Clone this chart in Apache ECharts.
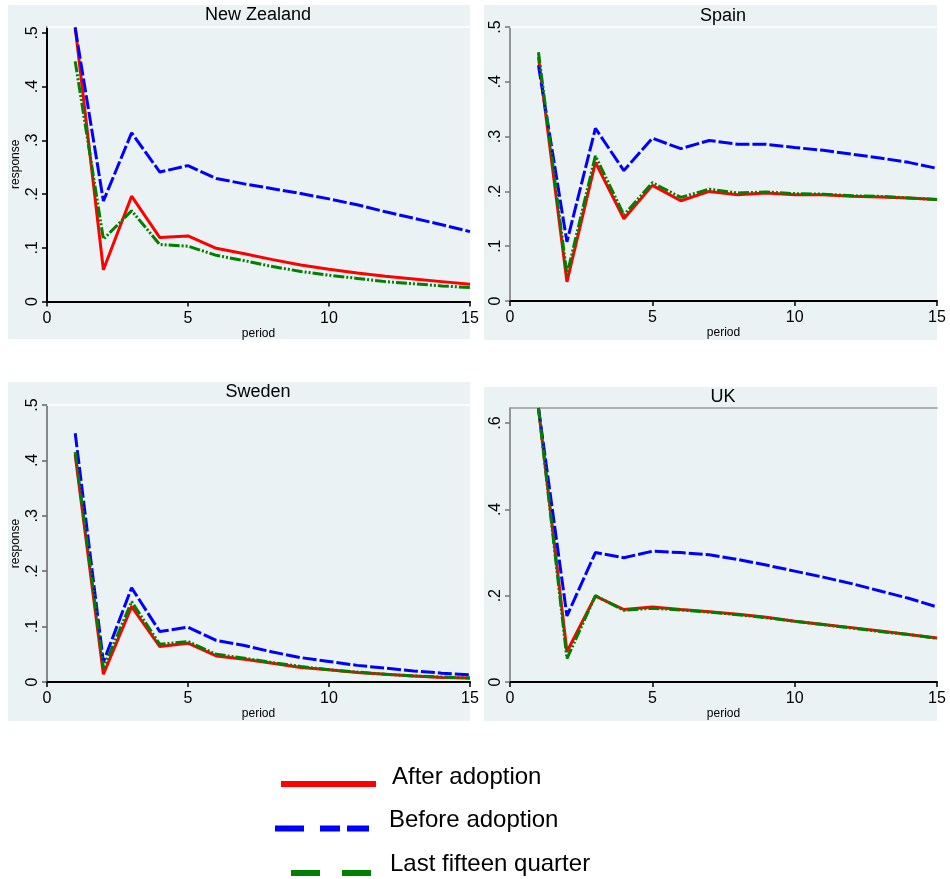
<!DOCTYPE html>
<html>
<head>
<meta charset="utf-8">
<script src="https://cdn.jsdelivr.net/npm/echarts@6/dist/echarts.min.js"></script>
<style>
html,body{margin:0;padding:0;background:#fff;}
#chart{width:950px;height:879px;}
</style>
</head>
<body>
<div id="chart"></div>
<script>
// ---------- data ----------
const periods = [1,2,3,4,5,6,7,8,9,10,11,12,13,14,15];
const seriesNames = ['After adoption', 'Before adoption', 'Last fifteen quarter'];
const panelTitles = ['New Zealand', 'Spain', 'Sweden', 'UK'];

const nzAfter  = [0.511,0.059,0.196,0.119,0.122,0.099,0.089,0.078,0.068,0.060,0.053,0.047,0.042,0.037,0.032];
const nzBefore = [0.509,0.187,0.314,0.241,0.253,0.229,0.219,0.210,0.201,0.191,0.180,0.167,0.155,0.143,0.130];
const nzLast   = [0.447,0.116,0.169,0.106,0.103,0.086,0.076,0.065,0.056,0.049,0.043,0.037,0.033,0.029,0.026];

const spainAfter  = [0.445,0.035,0.253,0.150,0.211,0.183,0.200,0.194,0.197,0.194,0.194,0.191,0.190,0.188,0.185];
const spainBefore = [0.430,0.108,0.315,0.238,0.297,0.278,0.293,0.286,0.286,0.280,0.275,0.268,0.261,0.253,0.242];
const spainLast   = [0.454,0.048,0.265,0.157,0.216,0.189,0.204,0.197,0.199,0.196,0.195,0.192,0.191,0.188,0.185];

const swedenAfter  = [0.410,0.014,0.136,0.064,0.070,0.047,0.041,0.034,0.026,0.022,0.017,0.014,0.011,0.008,0.007];
const swedenBefore = [0.449,0.036,0.170,0.091,0.099,0.075,0.066,0.054,0.044,0.037,0.030,0.025,0.020,0.016,0.013];
const swedenLast   = [0.415,0.025,0.145,0.068,0.073,0.050,0.043,0.035,0.028,0.022,0.018,0.014,0.011,0.009,0.007];

const ukAfter  = [0.635,0.070,0.199,0.168,0.174,0.168,0.163,0.157,0.150,0.141,0.133,0.126,0.118,0.110,0.102];
const ukBefore = [0.635,0.153,0.300,0.288,0.303,0.300,0.295,0.284,0.271,0.257,0.243,0.228,0.211,0.194,0.174];
const ukLast   = [0.635,0.054,0.200,0.166,0.171,0.167,0.162,0.156,0.149,0.141,0.133,0.125,0.117,0.110,0.101];

const xTicks = [0,5,10,15];
const yTicksHalf = [0,0.1,0.2,0.3,0.4,0.5];
const yTicksUK = [0,0.2,0.4,0.6];
const nzYMax = 0.511;
const ukYMax = 0.635;

// ---------- layout / style ----------
const FONT = "'Liberation Sans', Arial, Helvetica, sans-serif";
const colors = ['#ff0000', '#0000ff', '#007f00'];
const dashes = ['solid', [14, 3], [11, 2, 2, 2, 2, 2]];

const panels = [
  { data: [nzAfter, nzBefore, nzLast], grid: {left:47, top:27, width:423, height:274.5}, bg:[8,5,462,334],
    yMax: nzYMax, yTicks: yTicksHalf, yName: 'response', yColor:'#000', yWidth:2, topColor:'#ffffff', title:[258,15.5] },
  { data: [spainAfter, spainBefore, spainLast], grid: {left:510, top:27, width:427, height:274}, bg:[484,5,453,335],
    yMax: 0.5, yTicks: yTicksHalf, yName: '', yColor:'#777', yWidth:1.5, topColor:'#ffffff', title:[723,16] },
  { data: [swedenAfter, swedenBefore, swedenLast], grid: {left:47, top:405, width:423, height:277}, bg:[8,382,462,339],
    yMax: 0.5, yTicks: yTicksHalf, yName: 'response', yColor:'#666', yWidth:1.5, topColor:'#ffffff', title:[258,392] },
  { data: [ukAfter, ukBefore, ukLast], grid: {left:510, top:408, width:427, height:274}, bg:[484,387,453,334],
    yMax: ukYMax, yTicks: yTicksUK, yName: '', yColor:'#777', yWidth:1.5, topColor:'#9a9a9a', title:[723,397] }
];

function fmtY(v){
  if (Math.abs(v) < 1e-9) return '0';
  return String(+v.toFixed(2)).replace(/^0\./, '.');
}

const grids = [], xAxes = [], yAxes = [], series = [], titles = [], graphics = [];

panels.forEach((p, i) => {
  grids.push(Object.assign({containLabel:false}, p.grid));
  graphics.push({ type:'rect', shape:{x:p.bg[0], y:p.bg[1], width:p.bg[2], height:p.bg[3]},
    style:{fill:'#eaf2f3'}, z:-10, silent:true });
  xAxes.push({
    type:'value', gridIndex:i, min:0, max:15, interval:5, position:'bottom',
    name:'period', nameLocation:'middle', nameGap:25,
    nameTextStyle:{fontSize:12, color:'#000', fontFamily:FONT},
    axisLine:{show:true, onZero:false, lineStyle:{color:'#000', width:2}},
    axisTick:{show:true, length:5, inside:false, customValues:xTicks, lineStyle:{color:'#000', width:1.5}},
    axisLabel:{fontSize:16, color:'#000', margin:9, fontFamily:FONT, customValues:xTicks},
    splitLine:{show:false}
  });
  xAxes.push({
    type:'value', gridIndex:i, min:0, max:15, position:'top',
    axisLine:{show:true, onZero:false, lineStyle:{color:p.topColor, width:1.5}},
    axisTick:{show:false}, axisLabel:{show:false}, splitLine:{show:false}
  });
  yAxes.push({
    type:'value', gridIndex:i, min:0, max:p.yMax,
    name:p.yName, nameLocation:'middle', nameGap:25,
    nameTextStyle:{fontSize:12, color:'#000', fontFamily:FONT},
    axisLine:{show:true, onZero:false, lineStyle:{color:p.yColor, width:p.yWidth}},
    axisTick:{show:true, length:5, inside:false, customValues:p.yTicks, lineStyle:{color:p.yColor, width:1.5}},
    axisLabel:{rotate:90, fontSize:16, color:'#000', margin:6, fontFamily:FONT,
               customValues:p.yTicks, formatter:fmtY},
    splitLine:{show:false}
  });
  p.data.forEach((arr, k) => {
    series.push({
      type:'line', name:seriesNames[k], xAxisIndex:i*2, yAxisIndex:i,
      data: periods.map((x, j) => [x, arr[j]]),
      symbol:'none', showSymbol:false, clip:true, animation:false,
      color:colors[k],
      lineStyle:{color:colors[k], width:3, type:dashes[k]},
      itemStyle:{color:colors[k]},
      z: 2 + k
    });
  });
  titles.push({
    text: panelTitles[i], left: p.title[0], top: p.title[1] - 9, padding:0,
    textAlign:'center',
    textStyle:{fontSize:18, fontWeight:'normal', color:'#000', fontFamily:FONT, lineHeight:18}
  });
});

// legend icons: a zero-length point at the top keeps the sample line low in a taller item box
const legendBase = { orient:'horizontal', padding:0, selectedMode:false, itemStyle:{borderWidth:0} };
const legends = [
  Object.assign({}, legendBase, { left:281, top:765, itemWidth:95, itemHeight:20,
    data:[{name:seriesNames[0], icon:'path://M0,0L0,0M0,14H95V20H0Z'}],
    textStyle:{fontSize:24, color:'#000', fontFamily:FONT, lineHeight:20, padding:[0,0,0,11]} }),
  Object.assign({}, legendBase, { left:275, top:808, itemWidth:94, itemHeight:23,
    data:[{name:seriesNames[1], icon:'path://M0,0L0,0M0,17H29V23H0Z M45,17H65V23H45Z M72,17H94V23H72Z'}],
    textStyle:{fontSize:24, color:'#000', fontFamily:FONT, lineHeight:23, padding:[0,0,0,15]} }),
  Object.assign({}, legendBase, { left:291, top:852, itemWidth:80, itemHeight:24,
    data:[{name:seriesNames[2], icon:'path://M0,0L0,0M0,18H29V24H0Z M51,18H80V24H51Z'}],
    textStyle:{fontSize:24, color:'#000', fontFamily:FONT, lineHeight:24, padding:[0,0,0,14]} })
];

const chart = echarts.init(document.getElementById('chart'), null, {renderer:'canvas'});
chart.setOption({
  backgroundColor:'#ffffff',
  animation:false,
  textStyle:{fontFamily:FONT},
  title: titles,
  grid: grids,
  xAxis: xAxes,
  yAxis: yAxes,
  legend: legends,
  graphic: { elements: graphics },
  series: series
});
</script>
</body>
</html>
